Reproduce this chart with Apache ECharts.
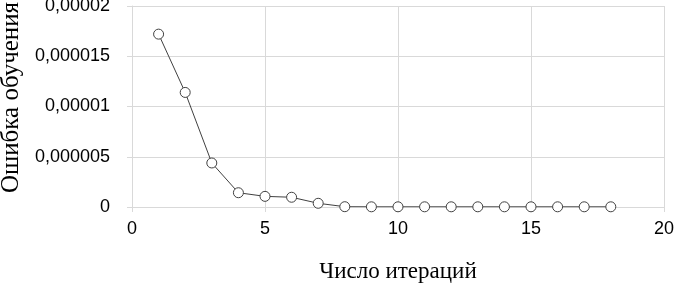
<!DOCTYPE html>
<html><head><meta charset="utf-8">
<script src="https://cdn.jsdelivr.net/npm/echarts@6/dist/echarts.min.js"></script>
<style>html,body{margin:0;padding:0;background:#fff}#c{width:674px;height:289px}</style>
</head><body><div id="c"></div>
<script>
const iterations = [1,2,3,4,5,6,7,8,9,10,11,12,13,14,15,16,17,18];
const errors = [0.0000172,0.0000114,0.00000438,0.00000142,0.00000106,0.00000097,0.00000037,0.00000003,0.00000002,0.00000002,0.00000002,0.00000002,0.00000002,0.00000002,0.00000002,0.00000002,0.00000002,0.00000002];
const yTickLabels = ['0','0,000005','0,00001','0,000015','0,00002'];
const xTickLabels = ['0','5','10','15','20'];
const xTitle = 'Число итераций';
const yTitle = 'Ошибка обучения';

const chart = echarts.init(document.getElementById('c'));
const gridColor = '#d9d9d9';
chart.setOption({
  animation:false,
  grid:{left:132,right:10,top:6,bottom:82,containLabel:false,outerBoundsMode:'none'},
  xAxis:{type:'value',min:0,max:20,interval:5,
    name:xTitle,nameLocation:'middle',nameGap:53,
    nameTextStyle:{fontFamily:'Liberation Serif',fontSize:23,color:'#000'},
    axisLine:{show:true,lineStyle:{color:gridColor}},
    axisTick:{show:true,length:5,lineStyle:{color:gridColor}},
    splitLine:{show:true,lineStyle:{color:gridColor}},
    axisLabel:{fontFamily:'Liberation Sans',fontSize:18,color:'#000',margin:13,
      formatter:v=>xTickLabels[Math.round(v/5)]}
  },
  yAxis:{type:'value',min:0,max:0.00002,interval:0.000005,
    name:yTitle,nameLocation:'middle',nameGap:108,
    nameTextStyle:{fontFamily:'Liberation Serif',fontSize:25,color:'#000',padding:[0,0,0,18]},
    axisLine:{show:true,lineStyle:{color:gridColor}},
    axisTick:{show:true,length:5,lineStyle:{color:gridColor}},
    splitLine:{show:true,lineStyle:{color:gridColor}},
    axisLabel:{fontFamily:'Liberation Sans',fontSize:18,color:'#000',margin:22,
      formatter:v=>yTickLabels[Math.round(v/0.000005)]}
  },
  series:[{type:'line',data:iterations.map((x,i)=>[x,errors[i]]),
    symbol:'circle',symbolSize:10,
    lineStyle:{color:'#404040',width:1},
    itemStyle:{color:'#fff',borderColor:'#404040',borderWidth:1}
  }]
});
</script></body></html>
